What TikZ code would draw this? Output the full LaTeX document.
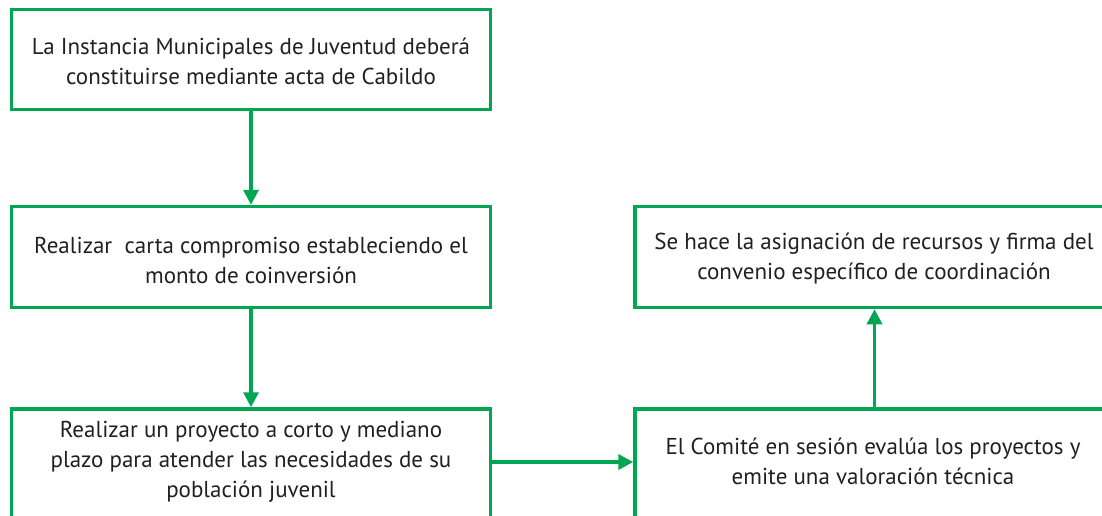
\documentclass[tikz,border=0pt]{standalone}
\usepackage{fontspec}
\setmainfont{PT Sans}
\usetikzlibrary{arrows.meta}
\definecolor{gob}{RGB}{0,166,81}
\definecolor{txt}{RGB}{35,31,32}
\tikzset{
  boxstyle/.style={draw=gob, line width=3.5pt, rectangle, minimum width=479pt, inner sep=0pt},
  txtstyle/.style={align=center, font=\fontsize{23}{30}\selectfont, text=txt, inner sep=0pt},
  arr/.style={draw=gob, line width=3.5pt, -{Triangle[width=15pt,length=15pt]}}
}
\begin{document}
\begin{tikzpicture}[x=1pt,y=-1pt]
\useasboundingbox (0,0) rectangle (1102,515);
\node[boxstyle, minimum height=100pt] (b1) at (251,59.5) {};
\node[boxstyle, minimum height=101pt] (b2) at (251,257) {};
\node[boxstyle, minimum height=130pt] (b3) at (251,474) {};
\node[boxstyle, minimum height=101pt] (b4) at (874.5,257) {};
\node[boxstyle, minimum height=130pt] (b5) at (874.5,474) {};
\node[txtstyle] (t1) at (251,61) {La Instancia Municipales de Juventud deberá\\constituirse mediante acta de Cabildo};
\node[txtstyle] (t2) at (251,260) {Realizar\ \ carta compromiso estableciendo el\\monto de coinversión};
\node[txtstyle] (t3) at (251,462) {Realizar un proyecto a corto y mediano\\plazo para atender las necesidades de su\\población juvenil};
\node[txtstyle] (t4) at (874,259) {Se hace la asignación de recursos y firma del\\convenio específico de coordinación};
\node[txtstyle] (t5) at (873,461) {El Comité en sesión evalúa los proyectos y\\emite una valoración técnica};
\draw[arr] (b1.south) -- (b2.north);
\draw[arr] (b2.south) -- (b2.south |- b3.north);
\draw[arr] (t3 -| b3.east) -- (t3 -| b5.west);
\draw[arr] (b5.north) -- (b4.south);
\end{tikzpicture}
\end{document}
